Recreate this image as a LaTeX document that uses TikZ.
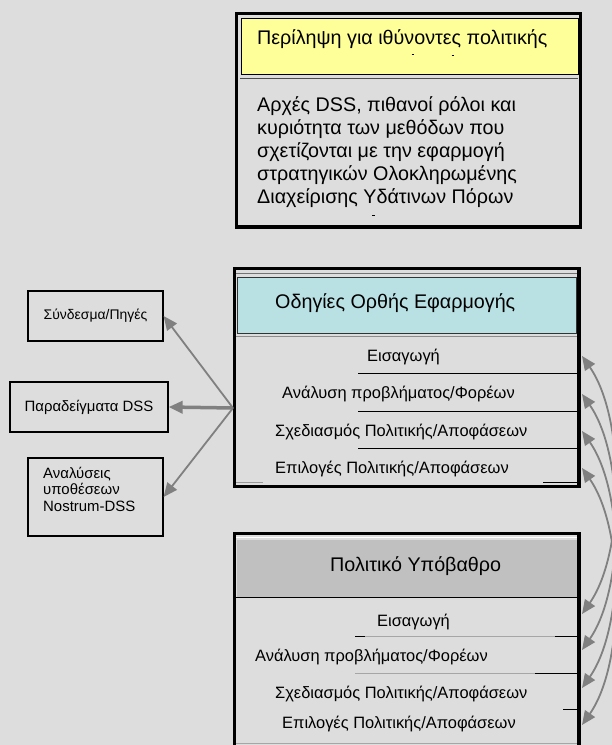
\documentclass[tikz,border=0pt]{standalone}
\usepackage{fontspec}
\setmainfont{Liberation Sans}
\usepackage{tikz}
\usetikzlibrary{arrows.meta}

\definecolor{pagegrey}{RGB}{221,221,221}
\definecolor{headyellow}{RGB}{255,255,153}
\definecolor{headcyan}{RGB}{185,225,228}
\definecolor{headgrey}{RGB}{192,192,192}
\definecolor{arrowgrey}{RGB}{128,128,128}

\tikzset{
  frame/.style={draw=black, line width=3.5bp},
  sidebox/.style={draw=black, line width=1.2bp, minimum width=135bp, minimum height=50bp, inner sep=0pt, font=\fontsize{14}{16.5}\selectfont},
  sidetxt/.style={anchor=base west, inner sep=0pt, font=\fontsize{15}{16.5}\selectfont},
  headtxt/.style={anchor=base west, inner sep=0pt, font=\fontsize{19.8}{22}\selectfont},
  itemtxt/.style={anchor=base west, inner sep=0pt, font=\fontsize{16.5}{18}\selectfont},
  link/.style={draw=arrowgrey, line width=1.8bp, -{Triangle[length=14bp,width=12bp]}},
  twoway/.style={draw=arrowgrey, line width=1.8bp, {Triangle[length=14bp,width=12bp]}-{Triangle[length=14bp,width=12bp]}},
}

\begin{document}
\begin{tikzpicture}[x=1bp, y=-1bp]
            \fill[pagegrey] (0,0) rectangle (612,745);
            \useasboundingbox (0,0) rectangle (612,745);
            \clip (0,0) rectangle (612,745);
            % summary box
            \filldraw[fill=headyellow, draw=black, line width=0.8bp] (241,18) rectangle (578.5,74.5);
            \draw[line width=0.8bp, black!70] (240,78) -- (578,78);
            \draw[frame] (236.5,13.5) rectangle (580.5,227);
            \node[headtxt] (summary) at (257,45) {Περίληψη για ιθύνοντες πολιτικής};
            \draw[line width=1bp] (411.5,55) -- (413.5,55);
            \draw[line width=1bp] (451.5,55.5) -- (453.5,55.5);
            \node[headtxt] (sum1) at (257,111.7) {Αρχές DSS, πιθανοί ρόλοι και};
            \node[headtxt] (sum2) at (257,134.5) {κυριότητα των μεθόδων που};
            \node[headtxt] (sum3) at (257,157.3) {σχετίζονται με την εφαρμογή};
            \node[headtxt] (sum4) at (257,180.1) {στρατηγικών Ολοκληρωμένης};
            \node[headtxt] (sum5) at (257,203) {Διαχείρισης Υδάτινων Πόρων};
            \draw[line width=1bp] (372,215.5) -- (374.5,215.5);
            % guidelines box
            \filldraw[fill=headcyan, draw=black!80, line width=0.8bp] (237,277.5) rectangle (576.5,333);
            \draw[line width=1bp, black!55] (236,273.5) -- (577,273.5);
            \draw[line width=1bp, black!45] (236,336) -- (577,336);
            \draw[line width=1bp] (358,373) -- (577,373);
            \draw[line width=1bp] (358,411) -- (577,411);
            \draw[line width=1bp] (358,448) -- (577,448);
            \draw[line width=1bp, black!40] (236,482) -- (263,482);
            \draw[line width=1bp] (543,482) -- (577,482);
            \draw[frame] (234.5,268.5) rectangle (579,486.5);
            \node[headtxt] (guide) at (275,308.3) {Οδηγίες Ορθής Εφαρμογής};
            \node[itemtxt] (gintro) at (367,361.7) {Εισαγωγή};
            \node[itemtxt] (gprob) at (282,398) {Ανάλυση προβλήματος/Φορέων};
            \node[itemtxt] (gplan) at (275,436.7) {Σχεδιασμός Πολιτικής/Αποφάσεων};
            \node[itemtxt] (gopt) at (275,473) {Επιλογές Πολιτικής/Αποφάσεων};
            % policy box
            \fill[headgrey] (237,539.5) rectangle (576.5,597);
            \draw[line width=1bp, white] (236,537) -- (577,537);
            \draw[line width=1.5bp] (236,597.5) -- (577,597.5);
            \draw[line width=1bp, black!35] (355,636) -- (555,636);
            \draw[line width=1bp] (355,636) -- (365,636);
            \draw[line width=1bp] (555,636) -- (577,636);
            \draw[line width=1bp, black!35] (355,673) -- (535,673);
            \draw[line width=1bp] (535,673) -- (577,673);
            \draw[line width=1bp] (563,709) -- (577,709);
            \draw[line width=1bp, black!35] (236,743) -- (577,743);
            \draw[frame] (234.5,533.5) rectangle (579,752);
            \node[headtxt] (policy) at (330,571.7) {Πολιτικό Υπόβαθρο};
            \node[itemtxt] (pintro) at (377,626.7) {Εισαγωγή};
            \node[itemtxt] (pprob) at (255,661.7) {Ανάλυση προβλήματος/Φορέων};
            \node[itemtxt] (pplan) at (275,698) {Σχεδιασμός Πολιτικής/Αποφάσεων};
            \node[itemtxt] (popt) at (282,728) {Επιλογές Πολιτικής/Αποφάσεων};
            % side boxes
            \node[sidebox] (links) at (95.5,316) {Σύνδεσμα/Πηγές};
            \node[sidebox, minimum width=158bp, font=\fontsize{15}{16.5}\selectfont] (examples) at (89,407) {Παραδείγματα DSS};
            \node[sidebox, minimum height=78bp] (cases) at (95.5,497) {};
            \node[sidetxt] (cases1) at (43,478) {Αναλύσεις};
            \node[sidetxt] (cases2) at (43,494) {υποθέσεων};
            \node[sidetxt] (cases3) at (43,511.7) {Nostrum-DSS};
            \coordinate (hub) at (233,408);
            \draw[link] (hub) -- (links.east);
            \draw[link, line width=3.5bp] (hub) -- (examples.east);
            \draw[link] (hub) -- (cases.east);
            % cross references
            \coordinate (g1) at (582,356);
            \coordinate (g2) at (582,394);
            \coordinate (g3) at (582,431);
            \coordinate (g4) at (582,468);
            \coordinate (p1) at (582,614);
            \coordinate (p2) at (582,650);
            \coordinate (p3) at (582,688);
            \coordinate (p4) at (582,725);
            \draw[twoway] (g1) to[out=-55, in=55, looseness=0.75] (p1);
            \draw[twoway] (g2) to[out=-55, in=55, looseness=0.75] (p2);
            \draw[twoway] (g3) to[out=-55, in=55, looseness=0.75] (p3);
            \draw[twoway] (g4) to[out=-55, in=55, looseness=0.75] (p4);
        \end{tikzpicture}
\end{document}
